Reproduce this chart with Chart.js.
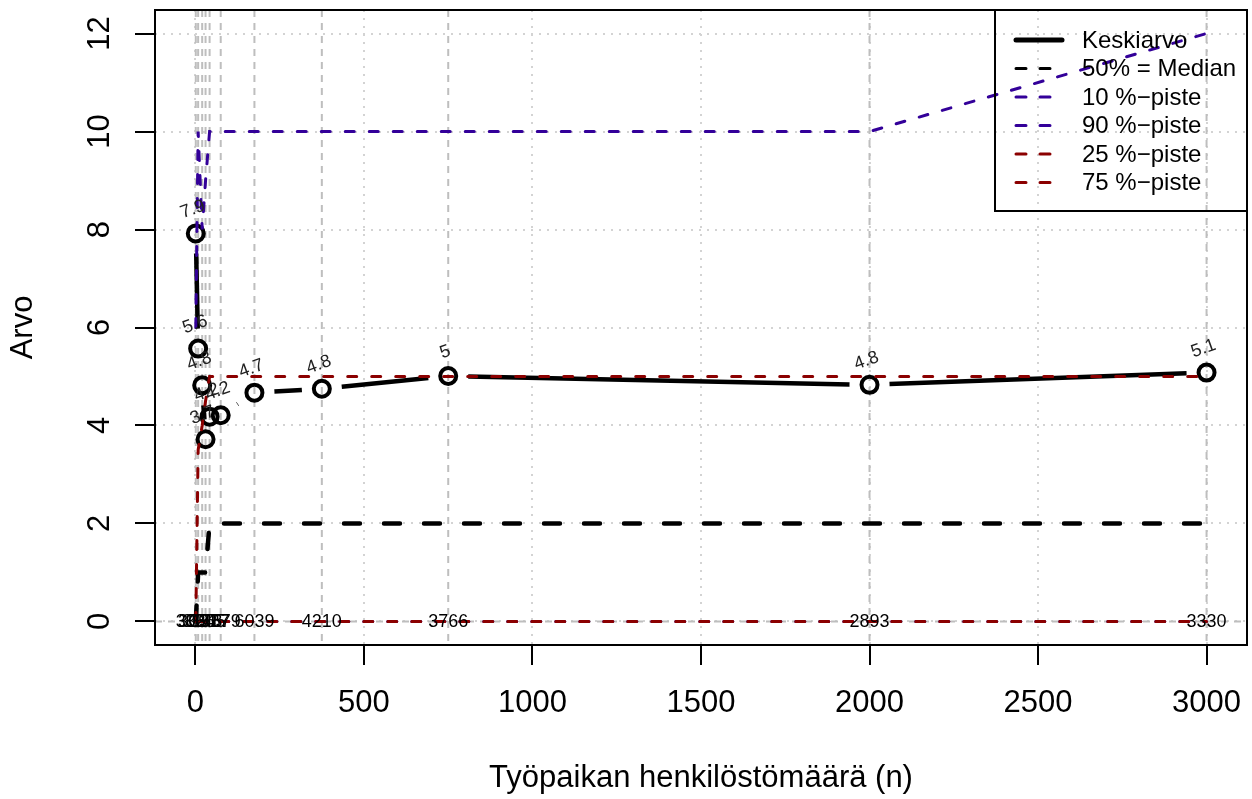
<!DOCTYPE html>
<html><head><meta charset="utf-8">
<script src="https://cdn.jsdelivr.net/npm/chart.js@4/dist/chart.umd.min.js"></script>
<style>html,body{margin:0;padding:0;background:#fff;}canvas{display:block;}</style>
</head><body>
<canvas id="c" width="1252" height="799" style="width:1252px;height:799px"></canvas>
<script>
// ---- data ----
const xValues      = [1, 8, 20, 30, 42, 75, 175, 375, 750, 2000, 3000];
const meanValues   = [7.92, 5.57, 4.82, 3.72, 4.18, 4.21, 4.67, 4.75, 5.01, 4.83, 5.08];
const medianValues = [0, 1, 1, 1, 2, 2, 2, 2, 2, 2, 2];
const p10Values    = [0, 0, 0, 0, 0, 0, 0, 0, 0, 0, 0];
const p90Values    = [6, 10, 8, 9, 10, 10, 10, 10, 10, 10, 12];
const p25Values    = [0, 0, 0, 0, 0, 0, 0, 0, 0, 0, 0];
const p75Values    = [0, 3.5, 4, 4.5, 5, 5, 5, 5, 5, 5, 5];
const countLabels  = ['3054', '3097', '3148', '3255', '3317', '5579', '6039', '4210', '3766', '2893', '3330'];
const xTicks = [0, 500, 1000, 1500, 2000, 2500, 3000];
const yTicks = [0, 2, 4, 6, 8, 10, 12];
const legendLabels = ['Keskiarvo', '50% = Median', '10 %\u2212piste', '90 %\u2212piste', '25 %\u2212piste', '75 %\u2212piste'];
const xTitle = 'Työpaikan henkilöstömäärä (n)';
const yTitle = 'Arvo';

const FONT = "'Liberation Sans', Arial, Helvetica, sans-serif";
const PURPLE = '#330099';
const DRED = '#8b0000';

const pts = arr => xValues.map((x, i) => ({x: x, y: arr[i]}));

const legendStyles = [
  {color: '#000', width: 5, dash: []},
  {color: '#000', width: 3, dash: [10, 14]},
  {color: PURPLE, width: 3, dash: [10, 14]},
  {color: PURPLE, width: 3, dash: [10, 14]},
  {color: DRED, width: 3, dash: [10, 14]},
  {color: DRED, width: 3, dash: [10, 14]}
];

const GAP = 20;
const rPlugin = {
  id: 'rstyle',
  beforeDatasetsDraw(chart) {
    const {ctx, chartArea: a, scales: {x, y}} = chart;
    ctx.save();
    ctx.strokeStyle = '#bebebe';
    ctx.lineWidth = 2;
    ctx.setLineDash([7, 6]);
    xValues.forEach(v => {
      const px = x.getPixelForValue(v);
      ctx.beginPath(); ctx.moveTo(px, a.top); ctx.lineTo(px, a.bottom); ctx.stroke();
    });
    const py0 = y.getPixelForValue(0);
    ctx.beginPath(); ctx.moveTo(a.left, py0); ctx.lineTo(a.right, py0); ctx.stroke();
    ctx.restore();
  },
  afterDatasetsDraw(chart) {
    const {ctx, chartArea: a, scales: {x, y}} = chart;
    ctx.save();
    // counts at y = 0
    ctx.fillStyle = '#000';
    ctx.font = '18px ' + FONT;
    ctx.textAlign = 'center';
    ctx.textBaseline = 'middle';
    xValues.forEach((v, i) => {
      ctx.fillText(countLabels[i], x.getPixelForValue(v), y.getPixelForValue(0) + 1);
    });
    // mean value labels
    xValues.forEach((v, i) => {
      const px = x.getPixelForValue(v), py = y.getPixelForValue(meanValues[i]);
      ctx.save();
      ctx.translate(px - 3, py - 24);
      ctx.rotate(-20 * Math.PI / 180);
      ctx.fillStyle = '#222';
      ctx.fillText(String(Math.round(meanValues[i] * 10) / 10), 0, 0);
      ctx.restore();
    });
    // box
    ctx.strokeStyle = '#000';
    ctx.lineWidth = 2;
    ctx.setLineDash([]);
    ctx.strokeRect(a.left, a.top, a.right - a.left, a.bottom - a.top);
    // y tick labels (rotated, as in R)
    ctx.font = '31px ' + FONT;
    yTicks.forEach(v => {
      ctx.save();
      ctx.translate(100, y.getPixelForValue(v));
      ctx.rotate(-Math.PI / 2);
      ctx.fillText(String(v), 0, 0);
      ctx.restore();
    });
    // axis titles
    ctx.fillText(xTitle, (a.left + a.right) / 2, 778);
    ctx.save();
    ctx.translate(23, (a.top + a.bottom) / 2);
    ctx.rotate(-Math.PI / 2);
    ctx.fillText(yTitle, 0, 0);
    ctx.restore();
    // legend
    const lx = 995, ly = 10, lw = 252, lh = 201;
    ctx.lineWidth = 2;
    ctx.strokeStyle = '#000';
    ctx.strokeRect(lx, ly, lw, lh);
    ctx.font = '24px ' + FONT;
    ctx.textAlign = 'left';
    legendLabels.forEach((t, i) => {
      const ry = 40 + i * 28.5;
      const s = legendStyles[i];
      ctx.strokeStyle = s.color;
      ctx.lineWidth = s.width;
      ctx.lineCap = 'round';
      ctx.setLineDash(s.dash);
      ctx.beginPath(); ctx.moveTo(1016, ry); ctx.lineTo(1062, ry); ctx.stroke();
      ctx.setLineDash([]);
      ctx.fillStyle = '#000';
      ctx.fillText(t, 1082, ry + 1);
    });
    ctx.restore();
  }
};

const lineDs = (label, arr, color, width, dash, order) => ({
  label: label, data: pts(arr), showLine: true, borderColor: color, borderWidth: width,
  borderDash: dash, borderCapStyle: 'round', pointRadius: 0, pointHoverRadius: 0,
  tension: 0, fill: false, order: order
});

new Chart(document.getElementById('c'), {
  type: 'scatter',
  data: {
    datasets: [
      {
        label: legendLabels[0], data: pts(meanValues), showLine: true,
        borderColor: '#000', borderWidth: 4.5, borderCapStyle: 'butt', tension: 0,
        pointRadius: 8, pointBorderWidth: 4, pointBorderColor: '#000',
        pointBackgroundColor: 'rgba(0,0,0,0)', pointHoverRadius: 8, order: 6,
        segment: {
          borderDash: c => {
            const L = Math.hypot(c.p1.x - c.p0.x, c.p1.y - c.p0.y);
            if (L <= 2 * GAP) return [0, L + 100];
            return [0, GAP, L - 2 * GAP, L + 100];
          }
        }
      },
      lineDs(legendLabels[1], medianValues, '#000', 4.5, [16, 24], 5),
      lineDs(legendLabels[2], p10Values, PURPLE, 3, [9, 15], 4),
      lineDs(legendLabels[3], p90Values, PURPLE, 3, [9, 15], 3),
      lineDs(legendLabels[4], p25Values, DRED, 3, [9, 15], 2),
      lineDs(legendLabels[5], p75Values, DRED, 3, [9, 15], 1)
    ]
  },
  options: {
    responsive: false,
    animation: false,
    devicePixelRatio: 1,
    layout: {autoPadding: false, padding: {left: 0, right: 5, top: 10, bottom: 0}},
    plugins: {legend: {display: false}, tooltip: {enabled: false}},
    scales: {
      x: {
        type: 'linear', min: -120, max: 3120,
        afterBuildTicks: s => { s.ticks = xTicks.map(v => ({value: v})); },
        afterFit: s => { s.height = 154; s.paddingLeft = 0; s.paddingRight = 0; },
        ticks: {font: {family: FONT, size: 31}, color: '#000', padding: 20, maxRotation: 0, autoSkip: false,
                callback: v => String(v)},
        grid: {color: '#d3d3d3', lineWidth: 2, drawTicks: true, tickLength: 20, tickColor: '#000', tickWidth: 2, tickBorderDash: []},
        border: {display: false, dash: [2, 6]}
      },
      y: {
        type: 'linear', min: -0.48, max: 12.48,
        afterBuildTicks: s => { s.ticks = yTicks.map(v => ({value: v})); },
        afterFit: s => { s.width = 155; s.paddingTop = 0; s.paddingBottom = 0; },
        ticks: {display: false},
        grid: {color: '#d3d3d3', lineWidth: 2, drawTicks: true, tickLength: 20, tickColor: '#000', tickWidth: 2, tickBorderDash: []},
        border: {display: false, dash: [2, 6]}
      }
    }
  },
  plugins: [rPlugin]
});
</script>
</body></html>
